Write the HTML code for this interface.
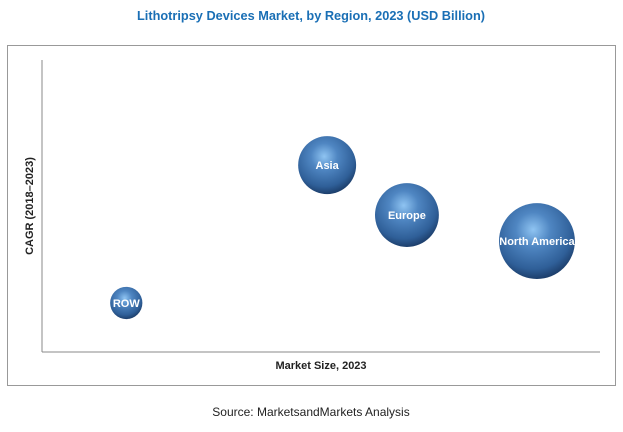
<!DOCTYPE html>
<html><head><meta charset="utf-8"><style>
body{margin:0;background:#fff;width:623px;height:427px;overflow:hidden;font-family:"Liberation Sans",sans-serif}
</style></head><body>
<svg width="623" height="427">
<defs>
<radialGradient id="g" cx="0.45" cy="0.35" r="0.65">
<stop offset="0" stop-color="#8fc4f2"/><stop offset="0.35" stop-color="#4f86c2"/><stop offset="0.8" stop-color="#2f5f98"/><stop offset="1" stop-color="#1d3f6c"/>
</radialGradient>
</defs>
<text x="311" y="20" text-anchor="middle" font-size="13" font-weight="bold" fill="#1a6fb5" textLength="348" lengthAdjust="spacingAndGlyphs">Lithotripsy Devices Market, by Region, 2023 (USD Billion)</text>
<rect x="7.5" y="45.5" width="608" height="340" fill="none" stroke="#999"/>
<line x1="42" y1="60" x2="42" y2="352" stroke="#888"/>
<line x1="42" y1="352" x2="600" y2="352" stroke="#888"/>
<text transform="translate(33,206) rotate(-90)" text-anchor="middle" font-size="11" font-weight="bold" fill="#222">CAGR (2018–2023)</text>
<text x="321" y="369" text-anchor="middle" font-size="11" font-weight="bold" fill="#222">Market Size, 2023</text>
<g id="bubbles"></g>
<text x="311" y="416" text-anchor="middle" font-size="12" fill="#222">Source: MarketsandMarkets Analysis</text>
</svg>
<script>
const regions=["Asia","Europe","North America","ROW"];
const marketSize=[5.11,6.54,8.87,1.51];
const cagr=[6.40,4.69,3.80,1.68];
const bubbleSize=[8.4,10.2,14.4,2.6];
const xS=v=>42+v*55.8, yS=v=>352-v*29.2, rS=v=>Math.sqrt(v)*10;
const g=document.getElementById('bubbles'),ns="http://www.w3.org/2000/svg";
regions.forEach((n,i)=>{
const c=document.createElementNS(ns,'circle');


c.setAttribute('cx',xS(marketSize[i]));c.setAttribute('cy',yS(cagr[i]));c.setAttribute('r',rS(bubbleSize[i]));
c.setAttribute('fill','url(#g)');g.appendChild(c);
const t=document.createElementNS(ns,'text');


t.setAttribute('x',xS(marketSize[i]));t.setAttribute('y',yS(cagr[i])+4);
t.setAttribute('text-anchor','middle');t.setAttribute('font-size','11');t.setAttribute('font-weight','bold');t.setAttribute('fill','#fff');
t.textContent=n;g.appendChild(t);
});
</script>
</body></html>
